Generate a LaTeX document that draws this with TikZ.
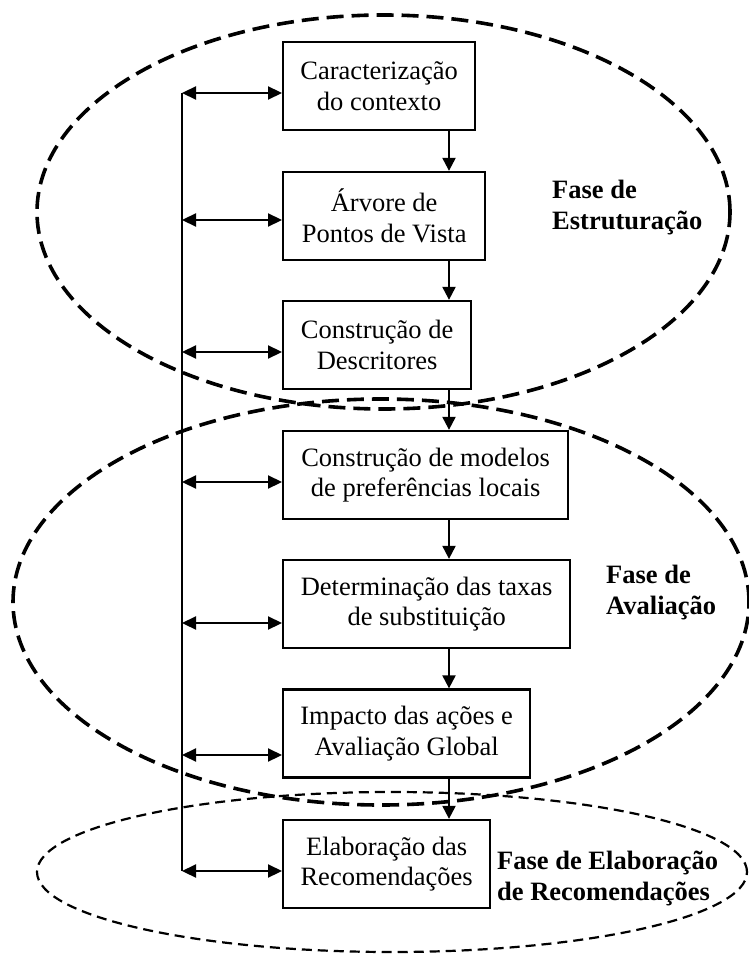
\documentclass[tikz,border=0pt]{standalone}
\usepackage{fontspec}
\setmainfont{Liberation Serif}
\usetikzlibrary{arrows.meta}
\begin{document}
\begin{tikzpicture}[x=1pt,y=-1pt,
  box/.style={draw,line width=2.3pt,fill=white,anchor=west,minimum height=88pt,
    inner sep=0pt,align=center,font=\fontsize{26.5}{30.7}\selectfont},
  phase/.style={inner sep=0pt,align=left,anchor=north west,
    font=\fontsize{26.5}{30.5}\selectfont\bfseries},
  bigell/.style={line width=3.6pt,dash pattern=on 17pt off 8pt},
  smallell/.style={line width=2.2pt,dash pattern=on 10pt off 6pt},
  conn/.style={line width=2.3pt},
  arr/.style={line width=2.2pt,-{Triangle[length=13pt,width=13pt]}},
  dbl/.style={line width=2.2pt,{Triangle[length=14pt,width=13pt]}-{Triangle[length=14pt,width=13pt]}}]
\useasboundingbox (0,0) rectangle (748,957);
% phase ellipses
\draw[bigell] (383.5,212) ellipse [x radius=346.5pt,y radius=197pt];
\draw[bigell] (381,602) ellipse [x radius=368pt,y radius=203pt];
\draw[smallell] (392,872) ellipse [x radius=355pt,y radius=80pt];
% boxes
\node[box,minimum width=192pt] (b1) at (282,86) {Caracterização\\do contexto};
\node[box,minimum width=202pt] (b2) at (282,216) {Árvore de\\Pontos de Vista};
\node[box,minimum width=188pt] (b3) at (282,345) {Construção de\\Descritores};
\node[box,minimum width=285pt] (b4) at (282,475) {Construção de modelos\\de preferências locais};
\node[box,minimum width=287pt] (b5) at (282,604) {Determinação das taxas\\de substituição};
\node[box,minimum width=247pt] (b6) at (282,733.5) {Impacto das ações e\\Avaliação Global};
\node[box,minimum width=207pt] (b7) at (282,864) {Elaboração das\\Recomendações};
% phase labels
\node[phase] (p1) at (552,180) {Fase de\\Estruturação};
\node[phase] (p2) at (606,565) {Fase de\\Avaliação};
\node[phase] (p3) at (497,851) {Fase de Elaboração\\de Recomendações};
% down arrows
\coordinate (ax) at (449,0);
\draw[arr] (b1.south -| ax) -- (b2.north -| ax);
\draw[arr] (b2.south -| ax) -- (b3.north -| ax);
\draw[arr] (b3.south -| ax) -- (b4.north -| ax);
\draw[arr] (b4.south -| ax) -- (b5.north -| ax);
\draw[arr] (b5.south -| ax) -- (b6.north -| ax);
\draw[arr] (b6.south -| ax) -- (b7.north -| ax);
% feedback spine
\coordinate (s1) at (182,93);
\coordinate (s2) at (182,220);
\coordinate (s3) at (182,352);
\coordinate (s4) at (182,482);
\coordinate (s5) at (182,623);
\coordinate (s6) at (182,755);
\coordinate (s7) at (182,871);
\draw[conn] (s1) -- (s7);
\draw[dbl] (s1) -- (s1 -| b1.west);
\draw[dbl] (s2) -- (s2 -| b2.west);
\draw[dbl] (s3) -- (s3 -| b3.west);
\draw[dbl] (s4) -- (s4 -| b4.west);
\draw[dbl] (s5) -- (s5 -| b5.west);
\draw[dbl] (s6) -- (s6 -| b6.west);
\draw[dbl] (s7) -- (s7 -| b7.west);
\end{tikzpicture}
\end{document}
